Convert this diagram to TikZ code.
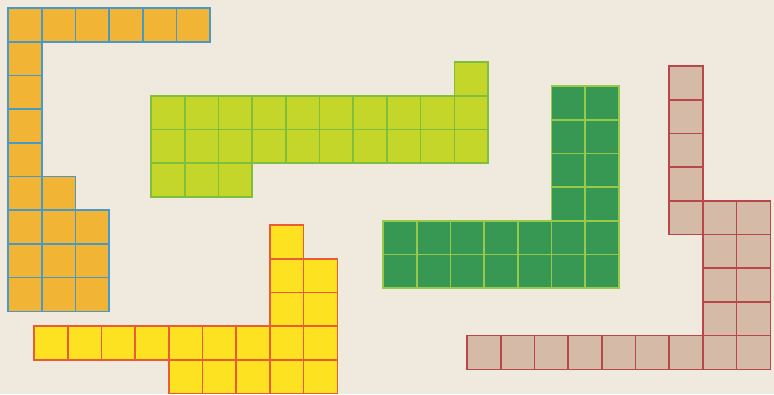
\documentclass[tikz,border=0pt]{standalone}
\usepackage{tikz}
\usetikzlibrary{positioning}
\definecolor{paperBg}{RGB}{240, 234, 222}
\definecolor{tileOrange}{RGB}{242, 180, 52}
\definecolor{edgeBlue}{RGB}{72, 152, 200}
\definecolor{tileLime}{RGB}{196, 214, 42}
\definecolor{edgeLime}{RGB}{128, 190, 62}
\definecolor{tileGreen}{RGB}{54, 152, 82}
\definecolor{edgeGreen}{RGB}{150, 202, 72}
\definecolor{tileRose}{RGB}{214, 186, 168}
\definecolor{edgeRose}{RGB}{186, 70, 74}
\definecolor{tileYellow}{RGB}{252, 226, 32}
\definecolor{edgeRed}{RGB}{236, 92, 52}
\tikzset{
  tile/.style={line width=1.6pt, line join=miter},
}
\newcommand{\cellw}{33.7}
% #1,#2 origin, #3 fill, #4 edge, #5 cells c/r
\newcommand{\tilepiece}[5]{%
  \foreach \c/\r in {#5}
    \draw[tile, fill=#3, draw=#4] ({#1+\c*\cellw},{#2+\r*\cellw}) rectangle ++(\cellw,\cellw);%
}
\begin{document}
\begin{tikzpicture}[x=1pt, y=-1pt]
  \fill[paperBg] (0,0) rectangle (774,394);
  \useasboundingbox (0,0) rectangle (774,394);

  % orange piece
  \tilepiece{8}{8}{tileOrange}{edgeBlue}{0/0,1/0,2/0,3/0,4/0,5/0,
    0/1,0/2,0/3,0/4,0/5,0/6,0/7,0/8,1/5,1/6,1/7,1/8,2/6,2/7,2/8}

  % lime piece
  \tilepiece{151}{62}{tileLime}{edgeLime}{9/0,
    0/1,1/1,2/1,3/1,4/1,5/1,6/1,7/1,8/1,9/1,
    0/2,1/2,2/2,3/2,4/2,5/2,6/2,7/2,8/2,9/2,
    0/3,1/3,2/3}

  % green piece
  \tilepiece{383}{86}{tileGreen}{edgeGreen}{5/0,6/0,5/1,6/1,5/2,6/2,5/3,6/3,
    0/4,1/4,2/4,3/4,4/4,5/4,6/4,
    0/5,1/5,2/5,3/5,4/5,5/5,6/5}

  % rose piece
  \tilepiece{467}{66}{tileRose}{edgeRose}{6/0,6/1,6/2,6/3,6/4,7/4,8/4,
    7/5,8/5,7/6,8/6,7/7,8/7,
    0/8,1/8,2/8,3/8,4/8,5/8,6/8,7/8,8/8}

  % yellow piece
  \tilepiece{34}{225}{tileYellow}{edgeRed}{7/0,7/1,8/1,7/2,8/2,
    0/3,1/3,2/3,3/3,4/3,5/3,6/3,7/3,8/3,
    4/4,5/4,6/4,7/4,8/4}
\end{tikzpicture}
\end{document}
